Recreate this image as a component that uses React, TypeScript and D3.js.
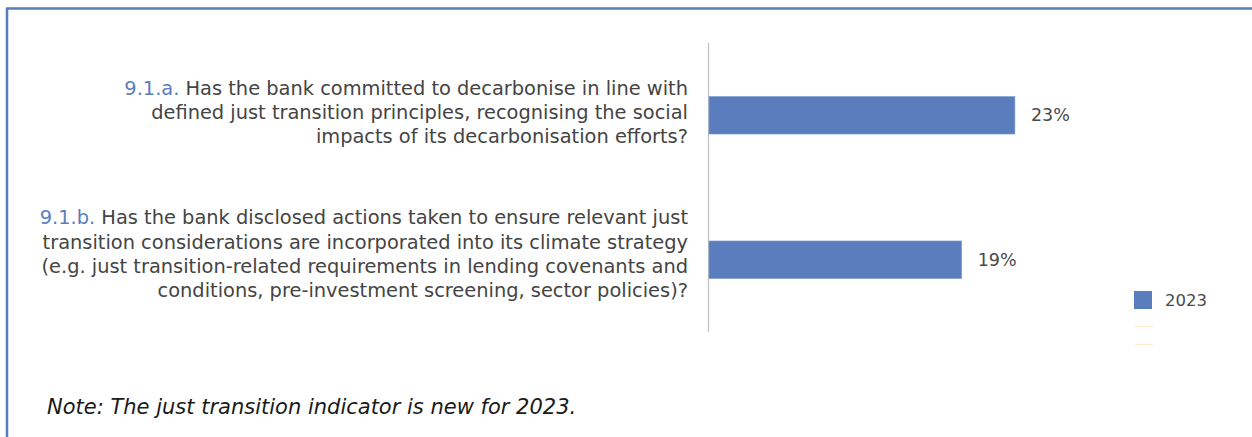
import React from "react";
import * as d3 from "d3";

const categoryCodes = ["9.1.a.", "9.1.b."];
const categoryLines = [
  [
    "Has the bank committed to decarbonise in line with",
    "defined just transition principles, recognising the social",
    "impacts of its decarbonisation efforts?",
  ],
  [
    "Has the bank disclosed actions taken to ensure relevant just",
    "transition considerations are incorporated into its climate strategy",
    "(e.g. just transition-related requirements in lending covenants and",
    "conditions, pre-investment screening, sector policies)?",
  ],
];
const values2023 = [23, 19];
const seriesNames = ["2023"];
const noteText = "Note: The just transition indicator is new for 2023.";

const W = 1252;
const H = 437;
const BLUE = "#5a7dbd";
const TEXT = "#444444";
const FONT = "'DejaVu Sans', 'Open Sans', sans-serif";

export default function App() {
  const x = d3.scaleLinear().domain([0, 40]).range([709, 709 + 532]);
  const y = d3
    .scaleBand<number>()
    .domain([0, 1])
    .range([43, 332])
    .paddingInner(0.74)
    .paddingOuter(0.37);

  const lineH = 24.2;
  const labelCenters = [112, 254];

  return (
    <svg
      width={W}
      height={H}
      style={{ position: "absolute", left: 0, top: 0, background: "#fff" }}
      fontFamily={FONT}
    >
      {/* frame */}
      <line x1={7} x2={W} y1={8.5} y2={8.5} stroke={BLUE} strokeWidth={2.5} />
      <line x1={7} x2={7} y1={7.5} y2={H} stroke={BLUE} strokeWidth={2.5} />

      {/* category labels */}
      {categoryLines.map((lines, i) => {
        const n = lines.length;
        const top = labelCenters[i] - ((n - 1) * lineH) / 2;
        return (
          <g key={i}>
            {lines.map((ln, j) => (
              <text
                key={j}
                x={688}
                y={top + j * lineH}
                dy="0.35em"
                textAnchor="end"
                fontSize={19.4}
                fill={TEXT}
              >
                {j === 0 ? (
                  <>
                    <tspan fill={BLUE}>{categoryCodes[i]}</tspan>
                    {" " + ln}
                  </>
                ) : (
                  ln
                )}
              </text>
            ))}
          </g>
        );
      })}

      {/* axis line */}
      <line x1={708.5} x2={708.5} y1={43} y2={332} stroke="#bfbfbf" strokeWidth={1.2} />

      {/* bars */}
      {values2023.map((v, i) => (
        <g key={i}>
          <rect
            x={x(0)}
            y={y(i)!}
            width={x(v) - x(0)}
            height={y.bandwidth()}
            fill={BLUE}
            stroke="#7f9fd6"
            strokeWidth={0.6}
          />
          <text
            x={x(v) + 16}
            y={y(i)! + y.bandwidth() / 2}
            dy="0.35em"
            fontSize={17.5}
            fill="#4a4a4a"
          >
            {v}%
          </text>
        </g>
      ))}

      {/* legend */}
      <rect x={1134} y={291} width={18} height={18} fill={BLUE} />
      <text x={1165} y={300} dy="0.35em" fontSize={16.5} fill="#4a4a4a">
        {seriesNames[0]}
      </text>
      <line x1={1135} x2={1153} y1={326.5} y2={326.5} stroke="#fde9cc" strokeWidth={1} />
      <line x1={1135} x2={1153} y1={344.5} y2={344.5} stroke="#fde9cc" strokeWidth={1} />

      {/* note */}
      <text x={47} y={407} dy="0.35em" fontSize={21} fontStyle="italic" fill="#1a1a1a">
        {noteText}
      </text>
    </svg>
  );
}
